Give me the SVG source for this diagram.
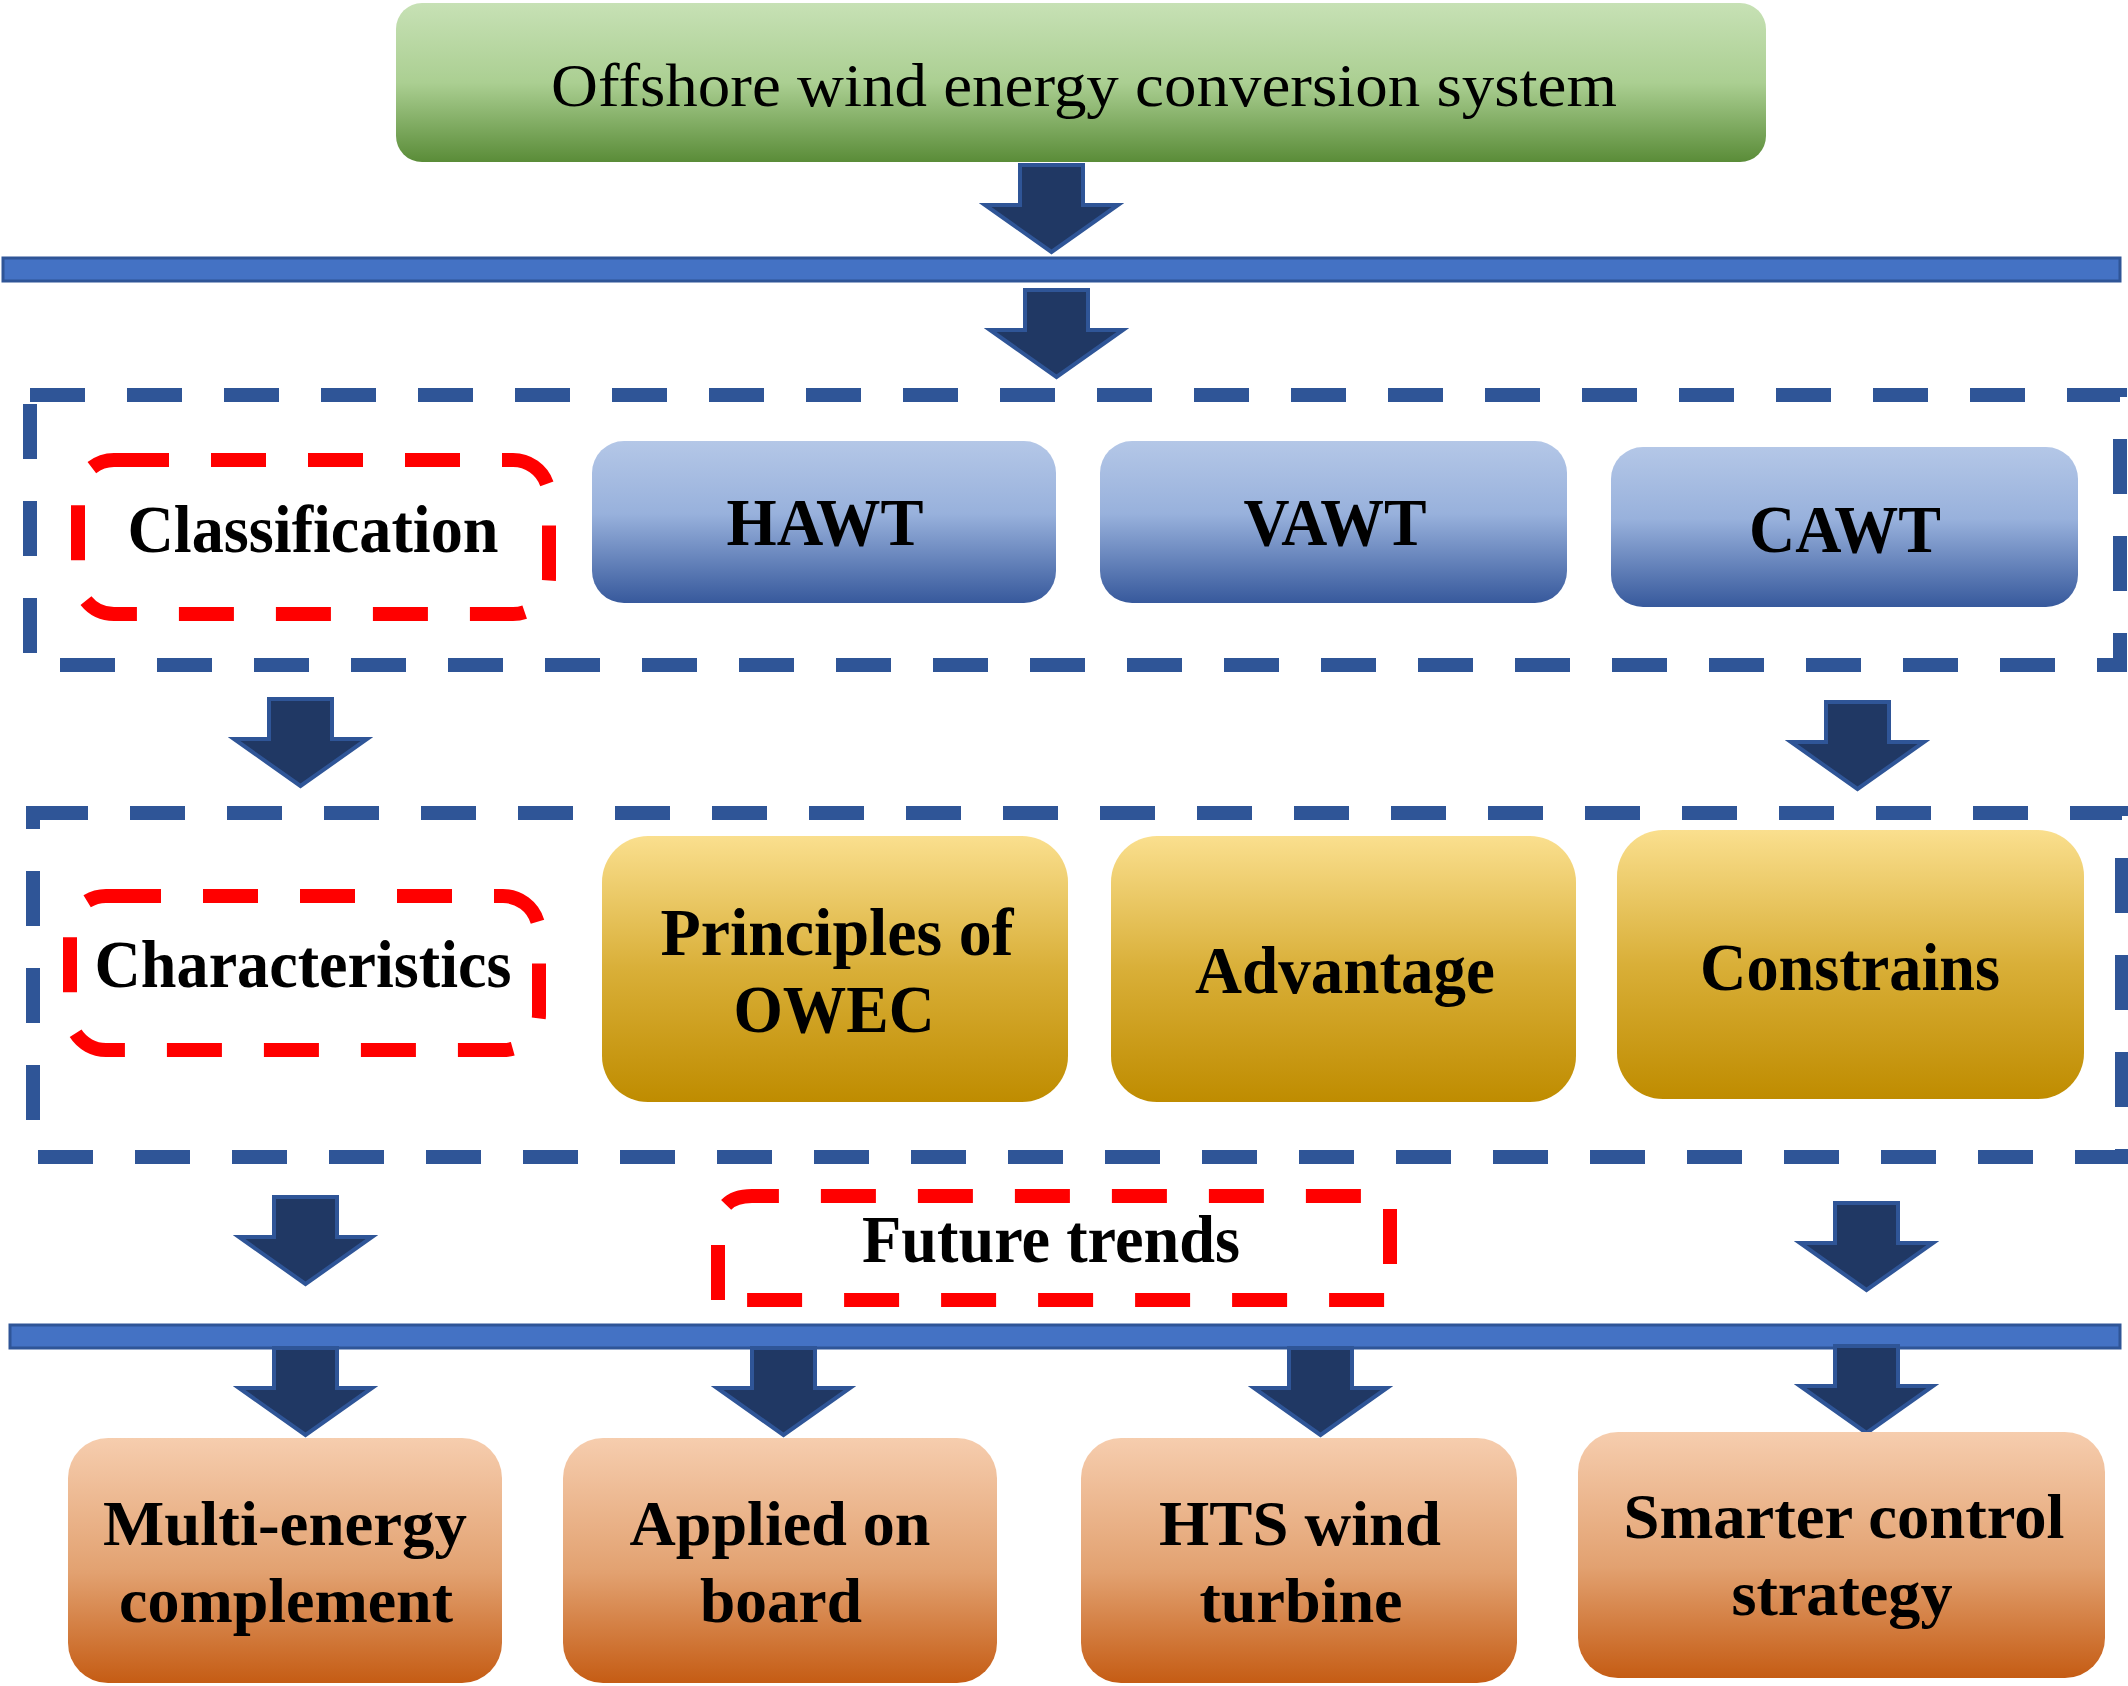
<svg xmlns="http://www.w3.org/2000/svg" width="2128" height="1686" viewBox="0 0 2128 1686">
<defs>
<linearGradient id="gGreen" x1="0" y1="0" x2="0" y2="1"><stop offset="0" stop-color="#C7E1B5"/><stop offset="0.5" stop-color="#ABCF92"/><stop offset="1" stop-color="#5A8C38"/></linearGradient>
<linearGradient id="gBlue" x1="0" y1="0" x2="0" y2="1"><stop offset="0" stop-color="#B4C7E7"/><stop offset="0.45" stop-color="#98B1DC"/><stop offset="1" stop-color="#37599C"/></linearGradient>
<linearGradient id="gGold" x1="0" y1="0" x2="0" y2="1"><stop offset="0" stop-color="#FADF8E"/><stop offset="0.5" stop-color="#D9AF38"/><stop offset="1" stop-color="#BF8C00"/></linearGradient>
<linearGradient id="gOrange" x1="0" y1="0" x2="0" y2="1"><stop offset="0" stop-color="#F6CDAE"/><stop offset="0.55" stop-color="#E2A170"/><stop offset="1" stop-color="#C55C14"/></linearGradient>
<path id="arrow" d="M35 0 H98 V40 H133 L66.5 87 L0 40 H35 Z"/>
</defs>
<style>
.arr{fill:#203864;stroke:#2F5597;stroke-width:4;stroke-linejoin:miter}
.bar{fill:#4472C4;stroke:#2F5597;stroke-width:3}
.bdash{fill:none;stroke:#2F5597;stroke-width:14;stroke-dasharray:55 42}
.rdash{fill:none;stroke:#FF0000;stroke-width:14;stroke-dasharray:55 42}
.t{font-family:"Liberation Serif","Times New Roman",serif;font-weight:bold;font-size:68px;fill:#000;text-anchor:middle}
.tb{font-size:64px}
.tr{font-family:"Liberation Serif","Times New Roman",serif;font-size:62px;fill:#000;text-anchor:middle}
</style>
<rect width="2128" height="1686" fill="#FFFFFF"/>

<g id="connectors">
<rect class="bar" x="3" y="258" width="2117" height="23"/>
<rect class="bar" x="10" y="1325" width="2110" height="23"/>
<use href="#arrow" class="arr" x="985" y="165"/>
<use href="#arrow" class="arr" x="990" y="290"/>
<use href="#arrow" class="arr" x="234" y="699"/>
<use href="#arrow" class="arr" x="1791" y="702"/>
<use href="#arrow" class="arr" x="239" y="1197"/>
<use href="#arrow" class="arr" x="1800" y="1203"/>
<use href="#arrow" class="arr" x="239" y="1348"/>
<use href="#arrow" class="arr" x="717" y="1348"/>
<use href="#arrow" class="arr" x="1254" y="1348"/>
<use href="#arrow" class="arr" x="1800" y="1346"/>
</g>

<g id="group-classification">
<rect class="bdash" x="30" y="395" width="2090" height="270"/>
</g>
<g id="group-characteristics">
<rect class="bdash" x="33" y="813" width="2089" height="344"/>
</g>

<g id="node-top">
<rect x="396" y="3" width="1370" height="159" rx="26" fill="url(#gGreen)"/>
<text class="tr" x="1084" y="106" textLength="1066" lengthAdjust="spacingAndGlyphs">Offshore wind energy conversion system</text>
</g>

<g id="node-classification">
<rect class="rdash" x="78" y="460" width="471" height="154" rx="36"/>
<text class="t" x="313" y="552" textLength="371" lengthAdjust="spacingAndGlyphs">Classification</text>
</g>
<g id="node-hawt">
<rect x="592" y="441" width="464" height="162" rx="32" fill="url(#gBlue)"/>
<text class="t" x="825" y="545" textLength="197" lengthAdjust="spacingAndGlyphs">HAWT</text>
</g>
<g id="node-vawt">
<rect x="1100" y="441" width="467" height="162" rx="32" fill="url(#gBlue)"/>
<text class="t" x="1335" y="545" textLength="183" lengthAdjust="spacingAndGlyphs">VAWT</text>
</g>
<g id="node-cawt">
<rect x="1611" y="447" width="467" height="160" rx="32" fill="url(#gBlue)"/>
<text class="t" x="1845" y="552" textLength="192" lengthAdjust="spacingAndGlyphs">CAWT</text>
</g>

<g id="node-characteristics">
<rect class="rdash" x="70" y="896" width="469" height="154" rx="36"/>
<text class="t" x="303" y="987" textLength="417" lengthAdjust="spacingAndGlyphs">Characteristics</text>
</g>
<g id="node-principles">
<rect x="602" y="836" width="466" height="266" rx="46" fill="url(#gGold)"/>
<text class="t" x="837" y="955" textLength="353" lengthAdjust="spacingAndGlyphs">Principles of</text>
<text class="t" x="834" y="1032" textLength="201" lengthAdjust="spacingAndGlyphs">OWEC</text>
</g>
<g id="node-advantage">
<rect x="1111" y="836" width="465" height="266" rx="46" fill="url(#gGold)"/>
<text class="t" x="1345" y="993" textLength="300" lengthAdjust="spacingAndGlyphs">Advantage</text>
</g>
<g id="node-constrains">
<rect x="1617" y="830" width="467" height="269" rx="46" fill="url(#gGold)"/>
<text class="t" x="1850" y="990" textLength="300" lengthAdjust="spacingAndGlyphs">Constrains</text>
</g>

<g id="node-future">
<path class="rdash" d="M718 1300 V1230 Q718 1196 752 1196 H1390 V1300 Z"/>
<text class="t" x="1051" y="1262" textLength="378" lengthAdjust="spacingAndGlyphs">Future trends</text>
</g>

<g id="node-multi">
<rect x="68" y="1438" width="434" height="245" rx="40" fill="url(#gOrange)"/>
<text class="t tb" x="285" y="1545" textLength="364" lengthAdjust="spacingAndGlyphs">Multi-energy</text>
<text class="t tb" x="286" y="1622" textLength="334" lengthAdjust="spacingAndGlyphs">complement</text>
</g>
<g id="node-applied">
<rect x="563" y="1438" width="434" height="245" rx="40" fill="url(#gOrange)"/>
<text class="t tb" x="780" y="1545" textLength="301" lengthAdjust="spacingAndGlyphs">Applied on</text>
<text class="t tb" x="781" y="1622" textLength="162" lengthAdjust="spacingAndGlyphs">board</text>
</g>
<g id="node-hts">
<rect x="1081" y="1438" width="436" height="245" rx="40" fill="url(#gOrange)"/>
<text class="t tb" x="1300" y="1545" textLength="282" lengthAdjust="spacingAndGlyphs">HTS wind</text>
<text class="t tb" x="1301" y="1622" textLength="203" lengthAdjust="spacingAndGlyphs">turbine</text>
</g>
<g id="node-smarter">
<rect x="1578" y="1432" width="527" height="246" rx="40" fill="url(#gOrange)"/>
<text class="t tb" x="1844" y="1538" textLength="441" lengthAdjust="spacingAndGlyphs">Smarter control</text>
<text class="t tb" x="1842" y="1615" textLength="221" lengthAdjust="spacingAndGlyphs">strategy</text>
</g>
</svg>
